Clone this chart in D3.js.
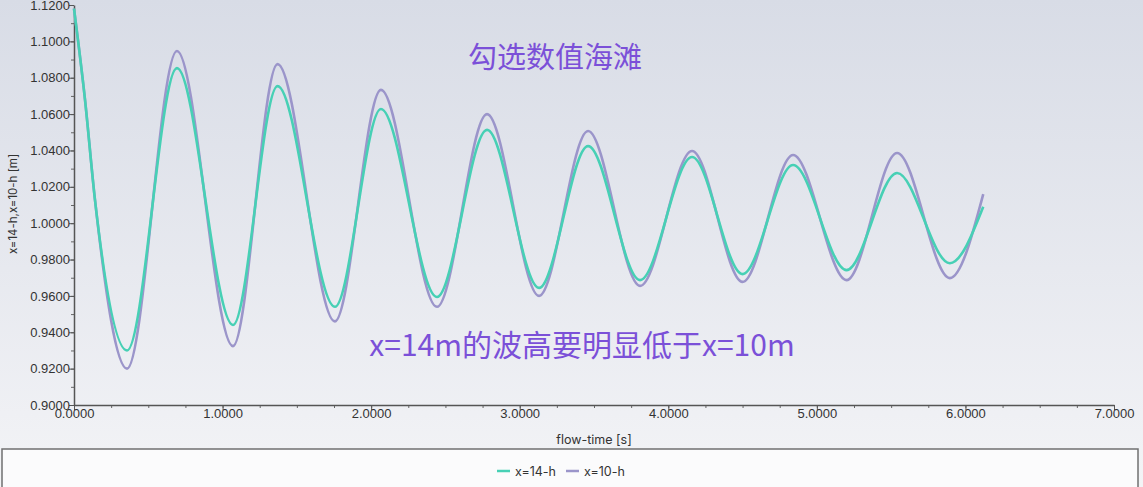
<!DOCTYPE html>
<html>
<head>
<meta charset="utf-8">
<script src="https://cdn.jsdelivr.net/npm/d3@7"></script>
<style>
  html, body { margin: 0; padding: 0; background: #eef0f4; }
  svg { display: block; font-family: Inter, "Noto Sans", sans-serif; }
  .tick text { fill: #333; }
</style>
</head>
<body>
<div id="chart"></div>
<script>
// Data: extrema (plus a couple of early points) of both wave gauges
var flowTime = [0.000, 0.074, 0.141, 0.357, 0.693, 1.070, 1.370, 1.756, 2.066, 2.443, 2.780, 3.130, 3.460, 3.810, 4.160, 4.500, 4.840, 5.200, 5.540, 5.895, 6.120];
var h14 = [1.118, 1.068, 1.013, 0.930, 1.0853, 0.944, 1.0754, 0.954, 1.0628, 0.9594, 1.0513, 0.9644, 1.0424, 0.9687, 1.0364, 0.972, 1.032, 0.9742, 1.0276, 0.978, 1.009];
var h10 = [1.118, 1.068, 1.013, 0.920, 1.0947, 0.9324, 1.0875, 0.946, 1.0733, 0.954, 1.060, 0.960, 1.0507, 0.9655, 1.0397, 0.9677, 1.0375, 0.9687, 1.0386, 0.9698, 1.016];
var seriesNames = ["x=14-h", "x=10-h"];
var seriesColors = ["#47d0b5", "#9b95ca"];
var xTicks = [0, 1, 2, 3, 4, 5, 6, 7];
var yTicks = [0.90, 0.92, 0.94, 0.96, 0.98, 1.00, 1.02, 1.04, 1.06, 1.08, 1.10, 1.12];
var notes = ["勾选数值海滩", "x=14m的波高要明显低于x=10m"];

var width = 1143, height = 487;
var mLeft = 74, mRight = 1114, mTop = 5, mBottom = 405;

var svg = d3.select("#chart").append("svg")
    .attr("width", width)
    .attr("height", height);

// background gradient
var grad = svg.append("defs").append("linearGradient")
    .attr("id", "bg").attr("x1", 0).attr("y1", 0).attr("x2", 0).attr("y2", 1);
grad.append("stop").attr("offset", "0%").attr("stop-color", "#d8dce6");
grad.append("stop").attr("offset", "85%").attr("stop-color", "#eff0f4");
grad.append("stop").attr("offset", "100%").attr("stop-color", "#f3f4f6");
svg.append("rect").attr("width", width).attr("height", height).attr("fill", "url(#bg)");

var x = d3.scaleLinear().domain([0, 7]).range([mLeft, mRight]);
var y = d3.scaleLinear().domain([0.9, 1.12]).range([mBottom, mTop]);

// minor ticks first
var xAxisMinor = d3.axisBottom(x).tickValues(d3.range(0, 7.001, 0.25)).tickSize(3).tickFormat("");
var yAxisMinor = d3.axisLeft(y).tickValues(d3.range(0.9, 1.1201, 0.01)).tickSize(3).tickFormat("");
svg.append("g").attr("transform", "translate(0," + mBottom + ")").call(xAxisMinor)
    .call(function(g){ g.select(".domain").remove(); g.selectAll("line").attr("stroke", "#666"); });
svg.append("g").attr("transform", "translate(" + mLeft + ",0)").call(yAxisMinor)
    .call(function(g){ g.select(".domain").remove(); g.selectAll("line").attr("stroke", "#666"); });

var xAxis = d3.axisBottom(x).tickValues(xTicks).tickSize(5).tickSizeOuter(0).tickFormat(d3.format(".4f"));
var yAxis = d3.axisLeft(y).tickValues(yTicks).tickSize(5).tickSizeOuter(0).tickFormat(d3.format(".4f"));

svg.append("g").attr("transform", "translate(0," + mBottom + ")").call(xAxis)
    .call(function(g){
        g.select(".domain").attr("stroke", "#555").attr("stroke-width", 1.5);
        g.selectAll("line").attr("stroke", "#555");
        g.selectAll("text").attr("font-size", 13).attr("dy", "0.55em").attr("y", 6);
    });
svg.append("g").attr("transform", "translate(" + mLeft + ",0)").call(yAxis)
    .call(function(g){
        g.select(".domain").attr("stroke", "#555").attr("stroke-width", 1.5);
        g.selectAll("line").attr("stroke", "#555");
        g.selectAll("text").attr("font-size", 13).attr("x", -4);
    });

// axis titles
svg.append("text").attr("x", 594).attr("y", 444)
    .attr("text-anchor", "middle").attr("font-size", 12.5).attr("fill", "#333").text("flow-time [s]");
svg.append("text").attr("transform", "translate(17,204)rotate(-90)")
    .attr("text-anchor", "middle").attr("font-size", 11.5).attr("fill", "#333").text("x=14-h,x=10-h [m]");

// lines
var data = [h14, h10];
var line = d3.line().curve(d3.curveMonotoneX)
    .x(function(d, i){ return x(flowTime[i]); })
    .y(function(d){ return y(d); });

svg.selectAll(".series").data([1, 0]).enter().append("path")
    .attr("class", "series")
    .attr("d", function(k){ return line(data[k]); })
    .attr("fill", "none")
    .attr("stroke", function(k){ return seriesColors[k]; })
    .attr("stroke-width", 2.6);

// annotations
svg.append("text").attr("x", 555).attr("y", 68).attr("text-anchor", "middle")
    .attr("font-family", "'Noto Sans CJK SC', sans-serif")
    .attr("font-size", 29).attr("fill", "#7b50d8").text(notes[0]);
svg.append("text").attr("x", 582).attr("y", 356).attr("text-anchor", "middle")
    .attr("font-family", "'Noto Sans CJK SC', sans-serif")
    .attr("font-size", 30).attr("fill", "#7b50d8").text(notes[1]);

// legend box
svg.append("rect").attr("x", 2).attr("y", 449).attr("width", 1136).attr("height", 60)
    .attr("fill", "#fbfbfc").attr("stroke", "#707070").attr("stroke-width", 1.5);

var legendX = [497, 566];
var lg = svg.selectAll(".lg").data(seriesNames).enter().append("g")
    .attr("class", "lg")
    .attr("transform", function(d, i){ return "translate(" + legendX[i] + ",471)"; });
lg.append("line").attr("x1", 0).attr("x2", 13).attr("y1", 0).attr("y2", 0)
    .attr("stroke", function(d, i){ return seriesColors[i]; }).attr("stroke-width", 2.5);
lg.append("text").attr("x", 18).attr("y", 4.5).attr("font-size", 12.5).attr("fill", "#333")
    .text(function(d){ return d; });
</script>
</body>
</html>
